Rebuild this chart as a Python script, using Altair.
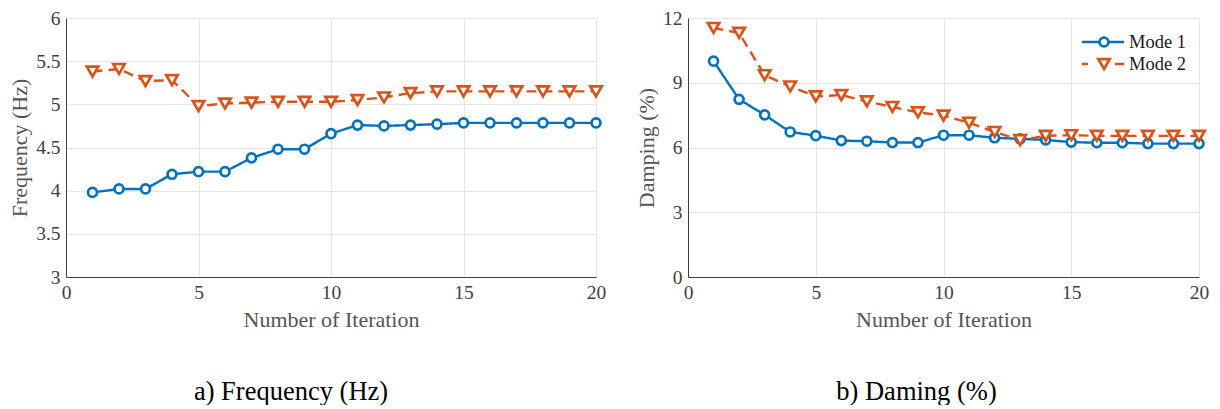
import pandas as pd
import altair as alt

FONT = "'Liberation Serif', 'DejaVu Serif', serif"

iterations = list(range(1, 21))
modes = ['Mode 1', 'Mode 2']
mode_colors = ['#0072BD', '#D95319']

freq_mode1 = [3.98, 4.02, 4.02, 4.19, 4.22, 4.22, 4.38, 4.48, 4.48, 4.66,
              4.76, 4.75, 4.76, 4.77, 4.785, 4.785, 4.785, 4.785, 4.785, 4.785]
freq_mode2 = [5.38, 5.41, 5.27, 5.28, 4.98, 5.01, 5.02, 5.03, 5.03, 5.03,
              5.05, 5.08, 5.13, 5.15, 5.15, 5.15, 5.15, 5.15, 5.15, 5.15]

damp_mode1 = [10.0, 8.23, 7.51, 6.72, 6.55, 6.32, 6.29, 6.23, 6.23, 6.57,
              6.57, 6.45, 6.40, 6.35, 6.25, 6.22, 6.22, 6.18, 6.18, 6.18]
damp_mode2 = [11.54, 11.31, 9.35, 8.83, 8.37, 8.43, 8.14, 7.88, 7.63, 7.48,
              7.15, 6.72, 6.34, 6.54, 6.57, 6.54, 6.54, 6.54, 6.54, 6.54]

freq_ticks = [3, 3.5, 4, 4.5, 5, 5.5, 6]
damp_ticks = [0, 3, 6, 9, 12]
x_ticks = [0, 5, 10, 15, 20]


def long_df(v1, v2):
    return pd.DataFrame({
        'Iteration': iterations * 2,
        'Value': v1 + v2,
        'Mode': ['Mode 1'] * len(v1) + ['Mode 2'] * len(v2),
    })


color_scale = alt.Scale(domain=modes, range=mode_colors)
shape_scale = alt.Scale(domain=modes, range=['circle', 'triangle-down'])
size_scale = alt.Scale(domain=modes, range=[80, 130])


def panel(df, y_title, y_domain, y_ticks, caption, caption_dx, width, height, legend=False):
    x_enc = alt.X('Iteration:Q', title='Number of Iteration',
                  scale=alt.Scale(domain=[0, 20], nice=False),
                  axis=alt.Axis(values=x_ticks, labelFlush=False))
    y_enc = alt.Y('Value:Q', title=y_title,
                  scale=alt.Scale(domain=y_domain, nice=False),
                  axis=alt.Axis(values=y_ticks, format='~g'))

    base = alt.Chart(df).encode(x=x_enc, y=y_enc,
                                color=alt.Color('Mode:N', scale=color_scale, legend=None))
    lines = base.mark_line(strokeWidth=2.4).encode(
        strokeDash=alt.StrokeDash('Mode:N', scale=alt.Scale(domain=modes, range=[[1, 0], [10, 6]]),
                                  legend=None))
    points = base.mark_point(fill='white', strokeWidth=2.7, opacity=1).encode(
        shape=alt.Shape('Mode:N', scale=shape_scale, legend=None),
        size=alt.Size('Mode:N', scale=size_scale, legend=None))
    data_layer = alt.layer(lines, points)

    layers = [data_layer]
    if legend:
        leg_df = pd.DataFrame({'Mode': modes})
        leg_y = alt.Y('Mode:N', axis=None,
                      scale=alt.Scale(type='point', domain=modes, range=[24, 46], padding=0))
        leg_base = alt.Chart(leg_df).encode(
            y=leg_y, color=alt.Color('Mode:N', scale=color_scale, legend=None))
        leg_rule = leg_base.mark_rule(strokeWidth=2.4).encode(
            x=alt.value(394), x2=alt.value(436),
            strokeDash=alt.StrokeDash('Mode:N', scale=alt.Scale(domain=modes, range=[[1, 0], [6, 27, 9]]),
                                      legend=None))
        leg_pt = leg_base.mark_point(fill='white', strokeWidth=2.7, opacity=1).encode(
            x=alt.value(416),
            shape=alt.Shape('Mode:N', scale=shape_scale, legend=None),
            size=alt.Size('Mode:N', scale=size_scale, legend=None))
        leg_txt = alt.Chart(leg_df).mark_text(align='left', baseline='middle', fontSize=18.5,
                                              font=FONT, color='#1a1a1a').encode(
            x=alt.value(441), y=leg_y, text='Mode:N')
        layers.append(alt.layer(leg_rule, leg_pt, leg_txt))

    chart = alt.layer(*layers)
    if legend:
        chart = chart.resolve_scale(y='independent', strokeDash='independent')
    return chart.properties(
        width=width, height=height,
        title=alt.TitleParams(caption, orient='bottom', fontSize=26.5, font=FONT,
                              fontWeight='normal', color='#000000', offset=48, dx=caption_dx),
    )


left = panel(long_df(freq_mode1, freq_mode2), 'Frequency (Hz)', [3, 6], freq_ticks,
             'a) Frequency (Hz)', -40, 530, 259)
right = panel(long_df(damp_mode1, damp_mode2), 'Damping (%)', [0, 12], damp_ticks,
              'b) Daming (%)', -27, 511, 259, legend=True)

chart = alt.hconcat(left, right, spacing=27).properties(
    padding={'left': 0, 'top': 0, 'right': 0, 'bottom': 0}
).configure(
    font=FONT,
).configure_view(
    stroke=None,
).configure_title(
    font=FONT,
).configure_text(
    font=FONT,
).configure_axis(
    labelFont=FONT, titleFont=FONT,
    labelFontSize=19.5, titleFontSize=22,
    labelColor='#404040', titleColor='#555555',
    titleFontWeight='normal',
    domainColor='#404040', domainWidth=1,
    gridColor='#e6e6e6', gridWidth=1,
    ticks=False, labelPadding=6,
).configure_axisY(
    titlePadding=4,
).configure_axisX(
    titlePadding=8,
)

chart.save('out.html', embed_options={'renderer': 'svg', 'actions': False})
